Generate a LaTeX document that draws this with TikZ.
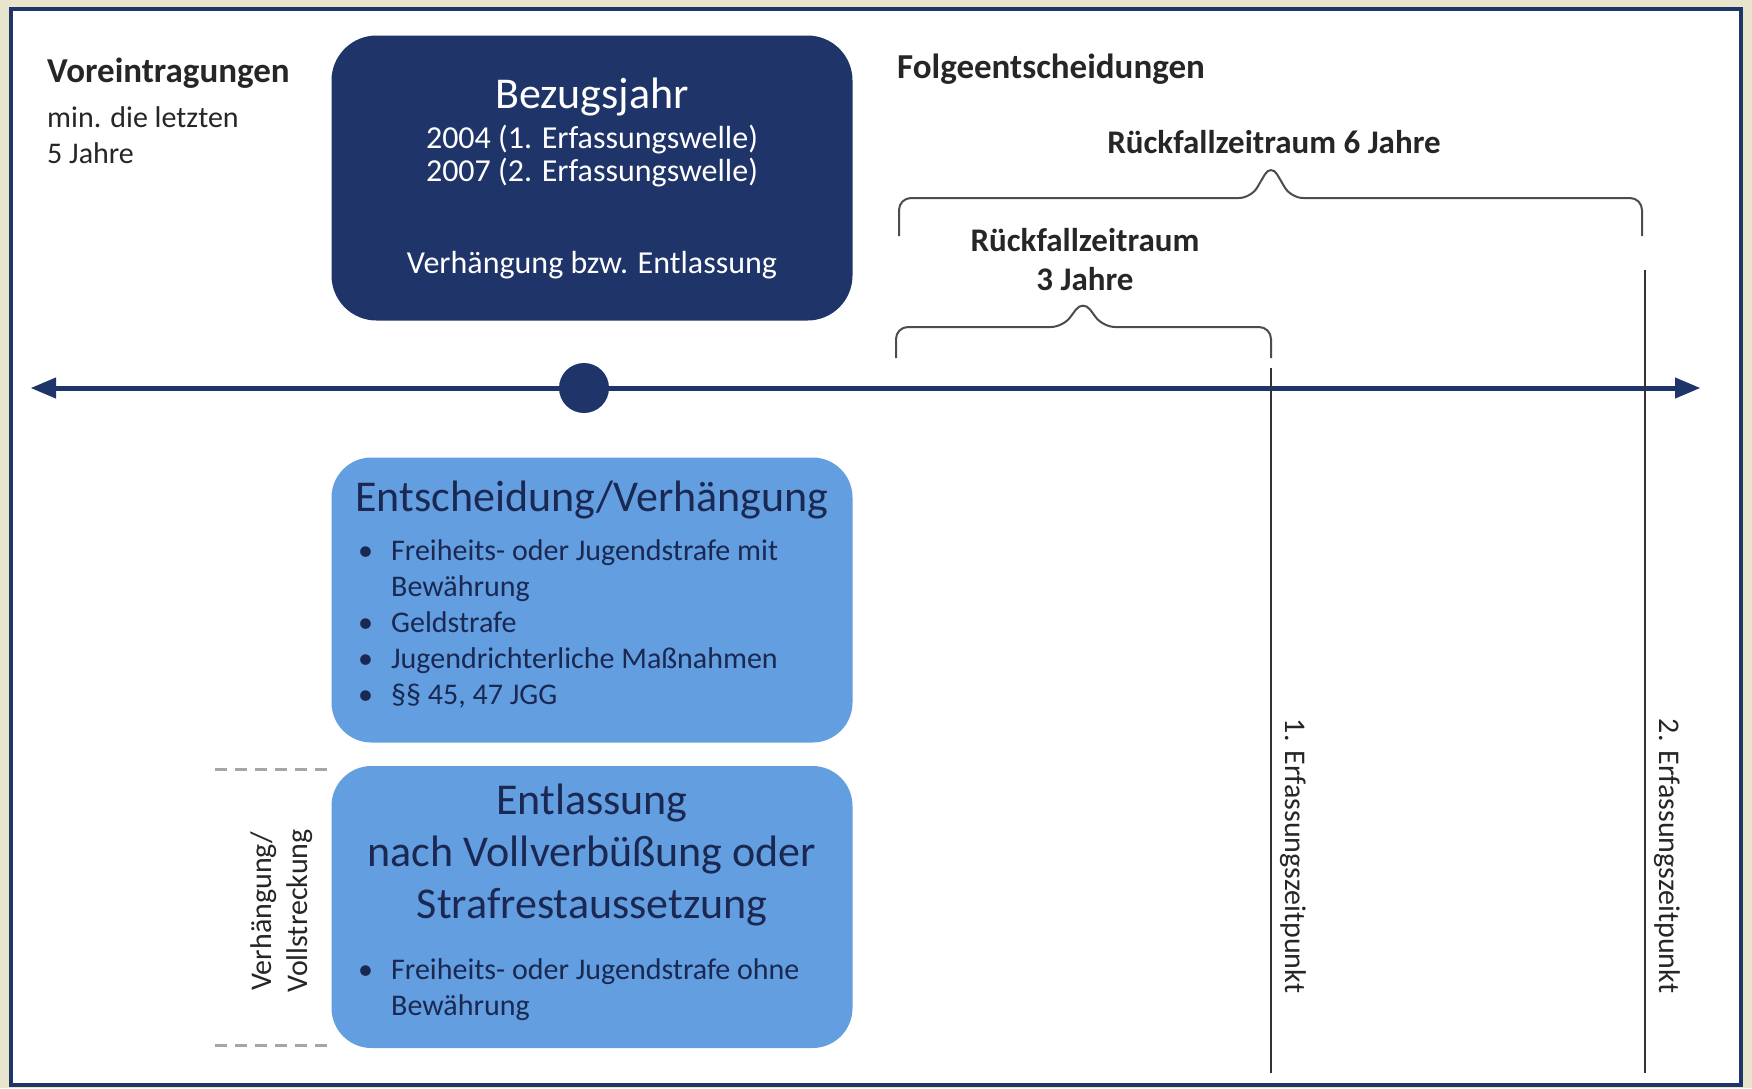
\documentclass[tikz,border=0pt]{standalone}
\usepackage{fontspec}
\setmainfont{Carlito}
\usepackage{tikz}
\usetikzlibrary{arrows,shapes}
\definecolor{navy}{RGB}{31,52,104}
\definecolor{skyblue}{RGB}{98,158,224}
\definecolor{inkblue}{RGB}{26,40,82}
\definecolor{paper}{RGB}{231,229,203}
\newcommand{\headfont}{\fontsize{44}{52}\selectfont}
\newcommand{\bodyfont}{\fontsize{30}{36}\selectfont}
\newcommand{\lblfont}{\fontsize{33}{39}\selectfont\bfseries}
\newcommand{\topfont}{\fontsize{35}{40}\selectfont\bfseries}
\tikzstyle{darkbox}=[rectangle, fill=navy
,rounded corners=45pt
,minimum width=521pt, minimum height=285pt
,inner sep=0pt
]
\tikzstyle{lightbox}=[rectangle, fill=skyblue
,rounded corners=40pt
,minimum width=521pt
,inner sep=0pt
]
\tikzstyle{whitetext}=[text=white, inner sep=0pt, font=\fontsize{32}{36}\selectfont]
\tikzstyle{boxtext}=[text=inkblue, inner sep=0pt, font=\bodyfont]
\tikzstyle{plaintext}=[text=black!85, inner sep=0pt, font=\bodyfont]
\tikzstyle{timeline} = [draw, line width=5pt, navy, triangle 45-triangle 45]
\tikzstyle{spanbrace} = [draw, line width=2pt, black!70, rounded corners=12pt]
\tikzstyle{cutline} = [draw, line width=2pt, black!80]
\tikzstyle{guide} = [draw, line width=3pt, black!35, dash pattern=on 12pt off 8pt]

\begin{document}
\begin{tikzpicture}[x=1pt,y=-1pt]
    \useasboundingbox (0,0) rectangle (1752,1088);
    % Frame of the page
    \fill[paper] (0,0) rectangle (1752,1088);
    \draw[fill=white, draw=navy, line width=4pt] (11,9) rectangle (1741,1085);

    % Time axis with the reference year
    \coordinate (past) at (31,388);
    \coordinate (future) at (1700,388);
    \path[timeline] (past) -- (future);
    \node[circle, fill=navy, minimum size=50pt, inner sep=0pt] (refdot) at (584,388) {};

    % Reference year box
    \node[darkbox] (bezug) at (592,178) {};
    \node[whitetext, font=\headfont] (bezugtitle) at (592,97) {Bezugsjahr};
    \foreach \name/\ypos/\txt in {welle1/140/{2004 (1. Erfassungswelle)}, welle2/173/{2007 (2. Erfassungswelle)}, verh/265/{Verhängung bzw. Entlassung}}
        \node[whitetext] (\name) at (592,\ypos) {\txt};

    % Decision box
    \node[lightbox, minimum height=285pt] (entscheidung) at (592,600) {};
    \node[boxtext, font=\headfont] (enttitle) at (592,500) {Entscheidung/Verhängung};
    \node[boxtext, anchor=north west] (entlist) at (358,535) {%
        \begin{tabular}{@{}p{33pt}@{}l@{}}
        \textbullet & Freiheits- oder Jugendstrafe mit\\
                    & Bewährung\\
        \textbullet & Geldstrafe\\
        \textbullet & Jugendrichterliche Maßnahmen\\
        \textbullet & §§ 45, 47 JGG
        \end{tabular}};

    % Release box
    \node[lightbox, minimum height=282pt] (entlassung) at (592,907) {};
    \node[boxtext, font=\headfont, align=center] (enlasstitle) at (592,855) {Entlassung\\nach Vollverbüßung oder\\Strafrestaussetzung};
    \node[boxtext, anchor=north west] (entlasslist) at (358,954) {%
        \begin{tabular}{@{}p{33pt}@{}l@{}}
        \textbullet & Freiheits- oder Jugendstrafe ohne\\
                    & Bewährung
        \end{tabular}};

    % Dashed marks for imposition / execution
    \coordinate (vtop) at (215,769);
    \coordinate (vbot) at (215,1045);
    \path[guide] (vtop) -- (vtop -| entlassung.west);
    \path[guide] (vbot) -- (vbot -| entlassung.west);
    \node[plaintext, rotate=90, align=center] (vollz) at (282,911) {Verhängung/\\Vollstreckung};

    % Texts on the left and on the right
    \node[plaintext, font=\topfont, anchor=west] (vor) at (47,73) {Voreintragungen};
    \node[plaintext, anchor=west, align=left] (vorsub) at (47,135) {min. die letzten\\5 Jahre};
    \node[plaintext, font=\topfont, anchor=west] (folge) at (897,69) {Folgeentscheidungen};

    % Braces for the follow-up periods
    \coordinate (r6a) at (899,236);
    \coordinate (r6tip) at (1271,164);
    \coordinate (r6b) at (1642,236);
    \path[spanbrace] (r6a) |- (1251,198) -- (r6tip) -- (1291,198) -| (r6b);
    \node[plaintext, font=\lblfont] (r6lab) at (1274,142) {Rückfallzeitraum 6 Jahre};

    \coordinate (r3a) at (896,358);
    \coordinate (r3tip) at (1083,300);
    \coordinate (r3b) at (1271,358);
    \path[spanbrace] (r3a) |- (1063,327) -- (r3tip) -- (1103,327) -| (r3b);
    \node[plaintext, font=\lblfont, align=center] (r3lab) at (1085,260) {Rückfallzeitraum\\3 Jahre};

    % Points of recording
    \foreach \name/\xpos/\ytop/\txt in {e1/1271/368/{1. Erfassungszeitpunkt}, e2/1645/270/{2. Erfassungszeitpunkt}}
    {
        \coordinate (\name top) at (\xpos,\ytop);
        \coordinate (\name bot) at (\xpos,1073);
        \path[cutline] (\name top) -- (\name bot);
        \node[plaintext, rotate=-90] (\name lab) at (\xpos+22,856) {\txt};
    }
\end{tikzpicture}
\end{document}
